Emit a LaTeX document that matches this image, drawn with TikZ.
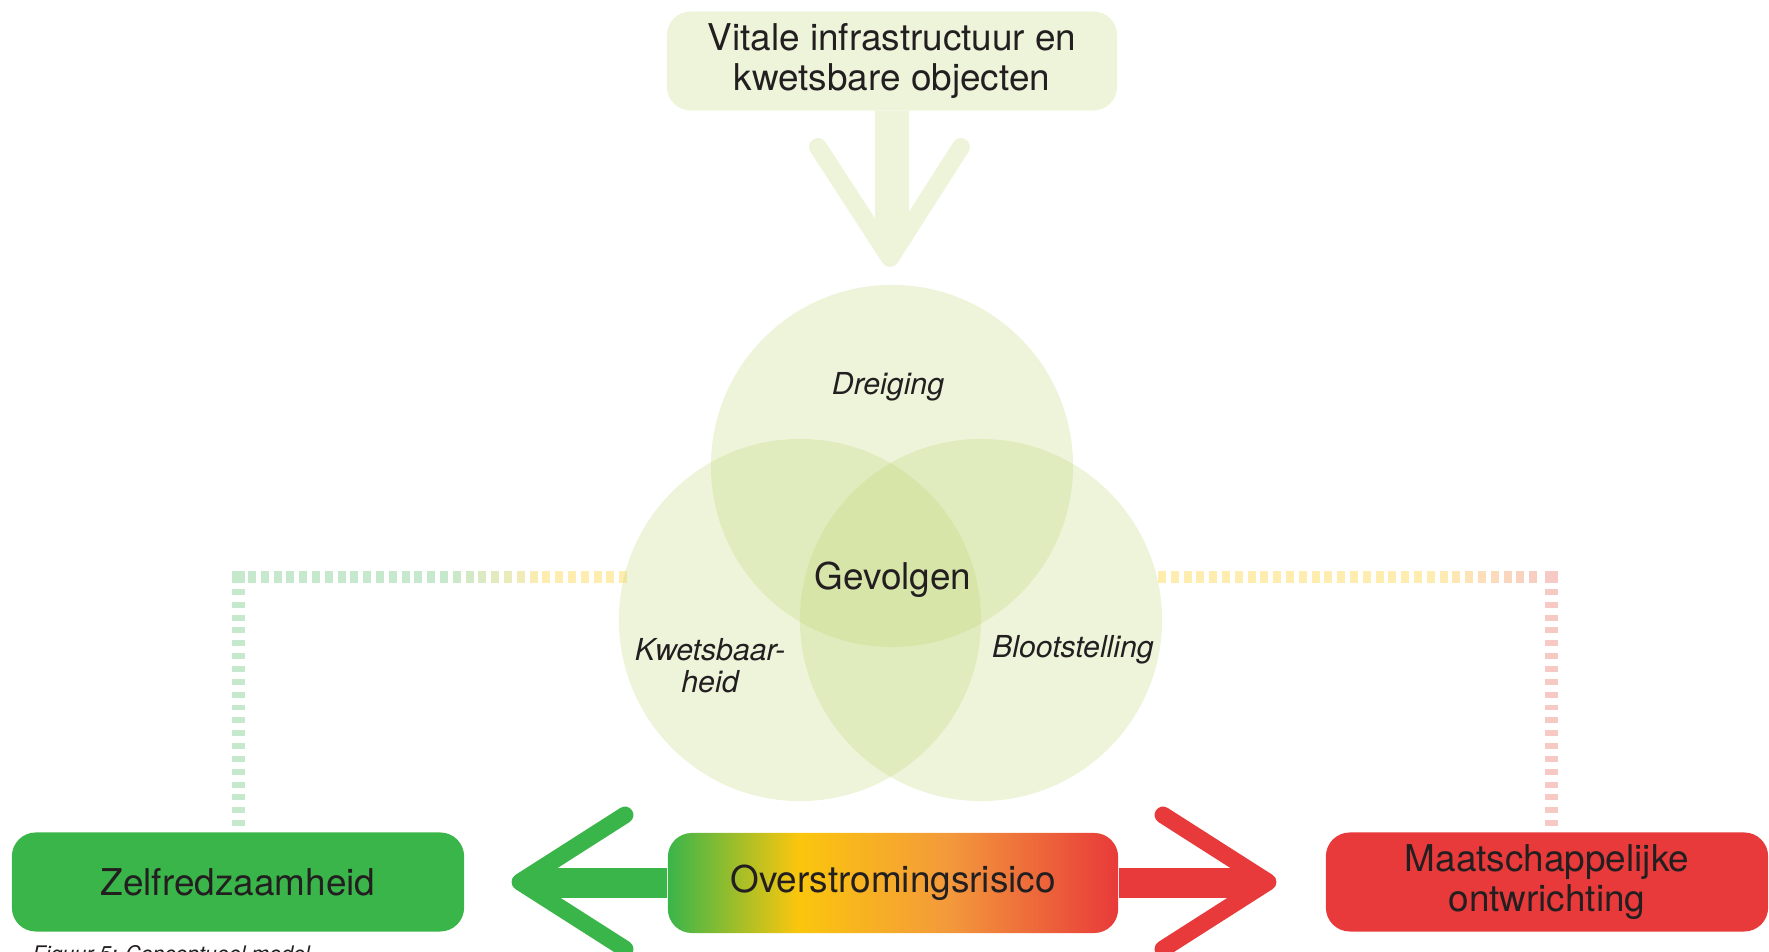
\documentclass[tikz,border=0pt]{standalone}
\usepackage{fontspec}
\setmainfont{TeX Gyre Heros}
\definecolor{zgreen}{RGB}{58,181,74}
\definecolor{mred}{RGB}{232,58,58}
\definecolor{ryellow}{RGB}{251,198,13}
\definecolor{rorange}{RGB}{243,154,59}
\definecolor{paleleaf}{RGB}{238,244,218}
\definecolor{venncol}{RGB}{184,209,101}
\definecolor{greendot}{RGB}{198,232,204}
\definecolor{yellowdot}{RGB}{255,237,176}
\definecolor{pinkdot}{RGB}{247,201,197}
\definecolor{inkt}{RGB}{35,31,32}
\pgfdeclarehorizontalshading{risico}{100bp}{color(0bp)=(zgreen); color(25bp)=(zgreen); color(39.5bp)=(ryellow); color(56bp)=(rorange); color(75bp)=(mred); color(100bp)=(mred)}
\tikzset{
  box/.style={rounded corners=6.8pt, minimum width=4.5cm, minimum height=0.99cm, inner sep=0pt, align=center, text=inkt, font=\fontsize{10.5}{11.3}\selectfont},
  venn/.style={circle, minimum size=3.62cm, inner sep=0pt, fill=venncol, fill opacity=0.24},
  lbl/.style={text=inkt, align=center, font=\fontsize{8.6}{9.2}\selectfont\itshape},
  shaft/.style={line width=8.5pt},
  arm/.style={line width=4.8pt, line cap=round, line join=round},
  vdots/.style={line width=3.5pt, dash pattern=on 1.7pt off 1.95pt},
}
\begin{document}
\begin{tikzpicture}[x=0.01cm, y=0.01cm]
  \useasboundingbox (0,0) rectangle (1769,952);
  % boxes
  \node[box, fill=paleleaf] (vit) at (892,891) {Vitale infrastructuur en\\kwetsbare objecten};
  \node[box, fill=zgreen, minimum width=4.52cm] (zelf) at (238,70) {Zelfredzaamheid};
  \node[box, shading=risico, minimum height=1cm] (ovr) at (893,69) {Overstromingsrisico};
  \node[box, fill=mred, minimum width=4.42cm] (maat) at (1547,70) {Maatschappelijke\\ontwrichting};
  % dotted lines
  \foreach \i in {0,...,29} {
    \pgfmathsetmacro\xa{248+12.8*\i}
    \pgfmathtruncatemacro\p{max(0,min(100,(540-\xa)/0.95))}
    \fill[greendot!\p!yellowdot] (\xa,369) rectangle ++(8,12);
    \pgfmathsetmacro\xb{1158+12.8*\i}
    \pgfmathtruncatemacro\q{max(0,min(100,(1545-\xb)/1.1))}
    \fill[yellowdot!\q!pinkdot] (\xb,369) rectangle ++(8,12);
  }
  \fill[greendot] (232,369) rectangle (245,381);
  \fill[pinkdot] (1545,369) rectangle (1558,381);
  \coordinate (clv) at (238.5,363);
  \coordinate (crv) at (1551.5,363);
  \draw[vdots, greendot] (clv) -- (clv |- zelf.north);
  \draw[vdots, pinkdot] (crv) -- (crv |- maat.north);
  % venn
  \node[venn] (dr) at (892,486) {};
  \node[venn] (kw) at (800,332) {};
  \node[venn] (bl) at (981,332) {};
  \node[lbl] (drl) at (888,565) {Dreiging};
  \node[lbl] (kwl) at (710,286) {Kwetsbaar-\\heid};
  \node[lbl] (bll) at (1073,302) {Blootstelling};
  \node[text=inkt, font=\fontsize{10.5}{11.3}\selectfont] (gev) at (893,372) {Gevolgen};
  % arrows
  \coordinate (vend) at (890,706);
  \coordinate (vtip) at (890,694);
  \coordinate (va) at (818,805);
  \coordinate (vb) at (961,805);
  \draw[paleleaf, line width=9.4pt] (vit.south) -- (vit.south |- vend);
  \draw[paleleaf, arm, line width=5.1pt] (va) -- (vtip) -- (vb);
  \coordinate (lend) at (532,70);
  \coordinate (ltip) at (520,70);
  \coordinate (la) at (625,137);
  \coordinate (lb) at (625,3);
  \draw[zgreen, shaft] (ovr.west) -- (ovr.west -| lend);
  \draw[zgreen, arm] (la) -- (ltip) -- (lb);
  \coordinate (rend) at (1256,70);
  \coordinate (rtip) at (1268,70);
  \coordinate (ra) at (1163,137);
  \coordinate (rb) at (1163,3);
  \draw[mred, shaft] (ovr.east) -- (ovr.east -| rend);
  \draw[mred, arm] (ra) -- (rtip) -- (rb);
  \node[anchor=base west, inner sep=0pt, text=inkt, font=\fontsize{6.1}{7}\selectfont\itshape] (cap) at (32,-10) {Figuur 5: Conceptueel model};
\end{tikzpicture}
\end{document}
